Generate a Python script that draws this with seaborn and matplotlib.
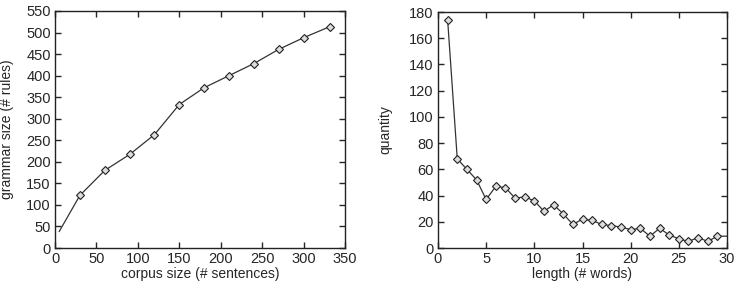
import numpy as np
import pandas as pd
import matplotlib
matplotlib.use('Agg')
import matplotlib.pyplot as plt
import seaborn as sns

# left panel: grammar size vs corpus size
corpus_size = [5, 30, 60, 90, 120, 150, 180, 210, 240, 270, 300, 332]
grammar_size = [38, 122, 180, 217, 263, 333, 372, 400, 428, 461, 488, 514]

# right panel: sentence length distribution
length_words = list(range(1, 31))
quantity = [174, 68, 60, 52, 37, 47, 46, 38, 39, 36, 28, 33, 26, 18, 22,
            21, 18, 17, 16, 14, 15, 9, 15, 10, 7, 5, 8, 5, 9, 9]

sns.set_style('ticks')
plt.rcParams['font.family'] = ['Liberation Sans', 'DejaVu Sans']
plt.rcParams['font.size'] = 10
plt.rcParams['xtick.direction'] = 'in'
plt.rcParams['ytick.direction'] = 'in'

fig = plt.figure(figsize=(7.38, 2.86), dpi=100)
ax1 = fig.add_axes([55/738, 1 - 248/286, 290/738, 237/286])
ax2 = fig.add_axes([438/738, 1 - 248/286, 289/738, 236/286])

df1 = pd.DataFrame({'x': corpus_size, 'y': grammar_size})
df2 = pd.DataFrame({'x': length_words, 'y': quantity})

style = dict(color='#333333', linewidth=0.9, marker='D', markersize=4.3,
             markerfacecolor='#dddddd', markeredgecolor='#222222',
             markeredgewidth=0.8)

sns.lineplot(data=df1, x='x', y='y', ax=ax1, markevery=list(range(1, len(corpus_size))), **style)
sns.lineplot(data=df2, x='x', y='y', ax=ax2, markevery=list(range(0, len(length_words) - 1)), **style)

ax1.set_xlim(0, 350)
ax1.set_ylim(0, 550)
ax1.set_xticks(np.arange(0, 351, 50))
ax1.set_yticks(np.arange(0, 551, 50))
ax1.set_xlabel('corpus size (# sentences)', fontsize=10)
ax1.set_ylabel('grammar size (# rules)', fontsize=10)
ax1.yaxis.set_label_coords(-0.14, 0.5)
ax1.xaxis.set_label_coords(0.5, -0.08)

ax2.set_xlim(0, 30)
ax2.set_ylim(0, 180)
ax2.set_xticks(np.arange(0, 31, 5))
ax2.set_yticks(np.arange(0, 181, 20))
ax2.set_xlabel('length (# words)', fontsize=10)
ax2.set_ylabel('quantity', fontsize=10)
ax2.yaxis.set_label_coords(-0.159, 0.5)
ax2.xaxis.set_label_coords(0.5, -0.08)

for ax in (ax1, ax2):
    ax.tick_params(top=True, right=True, length=4, width=1, labelsize=10.5, pad=3)
    for s in ax.spines.values():
        s.set_linewidth(1.0)
        s.set_color('#222222')

plt.savefig('out.png', dpi=100)
